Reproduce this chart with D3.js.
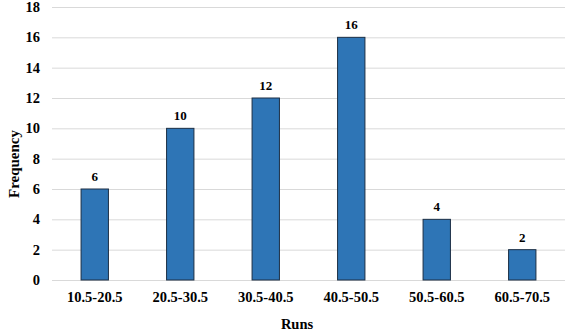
<!DOCTYPE html>
<meta charset="utf-8">
<style>
body { margin: 0; background: #fff; }
text { font-family: "Liberation Serif", "Times New Roman", serif; font-weight: bold; fill: #000; }
.grid line { stroke: #d9d9d9; stroke-width: 1px; }
.grid .domain { display: none; }
.axis .domain, .axis line { display: none; }
</style>
<body>
<script src="https://d3js.org/d3.v7.min.js"></script>
<script>

var categories = ["10.5-20.5", "20.5-30.5", "30.5-40.5", "40.5-50.5", "50.5-60.5", "60.5-70.5"];
var frequency = [6, 10, 12, 16, 4, 2];
var yTicks = [0, 2, 4, 6, 8, 10, 12, 14, 16, 18];

var data = categories.map(function (c, i) { return {cat: c, val: frequency[i]}; });

// set the dimensions and margins
var margin = {top: 7, right: 11, bottom: 56, left: 52},
    width = 576 - margin.left - margin.right,
    height = 336 - margin.top - margin.bottom;

var x = d3.scaleBand().domain(categories).range([0, width]).paddingInner(0.68).paddingOuter(0.34);
var y = d3.scaleLinear().domain([0, 18]).range([height, 0]);

var svg = d3.select("body").append("svg")
    .attr("width", 576)
    .attr("height", 336)
    .append("g")
    .attr("transform", "translate(" + margin.left + "," + margin.top + ")");

// gridlines
svg.append("g")
    .attr("class", "grid")
    .call(d3.axisLeft(y).tickValues(yTicks).tickSize(-width).tickFormat(""));

// y axis labels
svg.append("g")
    .attr("class", "axis")
    .attr("transform", "translate(-9,0)")
    .call(d3.axisLeft(y).tickValues(yTicks).tickSize(0))
    .selectAll("text")
    .style("font-size", "14.5px")
    .style("font-family", "Liberation Serif");

// x axis labels
svg.append("g")
    .attr("class", "axis")
    .attr("transform", "translate(0," + height + ")")
    .call(d3.axisBottom(x).tickSize(0).tickPadding(12))
    .selectAll("text")
    .style("font-size", "14.5px")
    .style("font-family", "Liberation Serif");

// bars
svg.selectAll(".bar")
    .data(data)
    .enter().append("rect")
    .attr("class", "bar")
    .attr("x", function (d) { return x(d.cat); })
    .attr("y", function (d) { return y(d.val); })
    .attr("width", x.bandwidth())
    .attr("height", function (d) { return height - y(d.val); })
    .attr("fill", "#2e75b6")
    .attr("stroke", "#1c2f45")
    .attr("stroke-width", 1);

// value labels
svg.selectAll(".lbl")
    .data(data)
    .enter().append("text")
    .attr("class", "lbl")
    .attr("x", function (d) { return x(d.cat) + x.bandwidth() / 2; })
    .attr("y", function (d) { return y(d.val) - 8; })
    .attr("text-anchor", "middle")
    .style("font-size", "13px")
    .text(function (d) { return d.val; });

// axis titles
svg.append("text")
    .attr("x", 245)
    .attr("y", height + 49)
    .attr("text-anchor", "middle")
    .style("font-size", "14.5px")
    .text("Runs");

svg.append("text")
    .attr("transform", "rotate(-90)")
    .attr("x", -157)
    .attr("y", -33)
    .attr("text-anchor", "middle")
    .style("font-size", "15px")
    .text("Frequency");

</script>
</body>
